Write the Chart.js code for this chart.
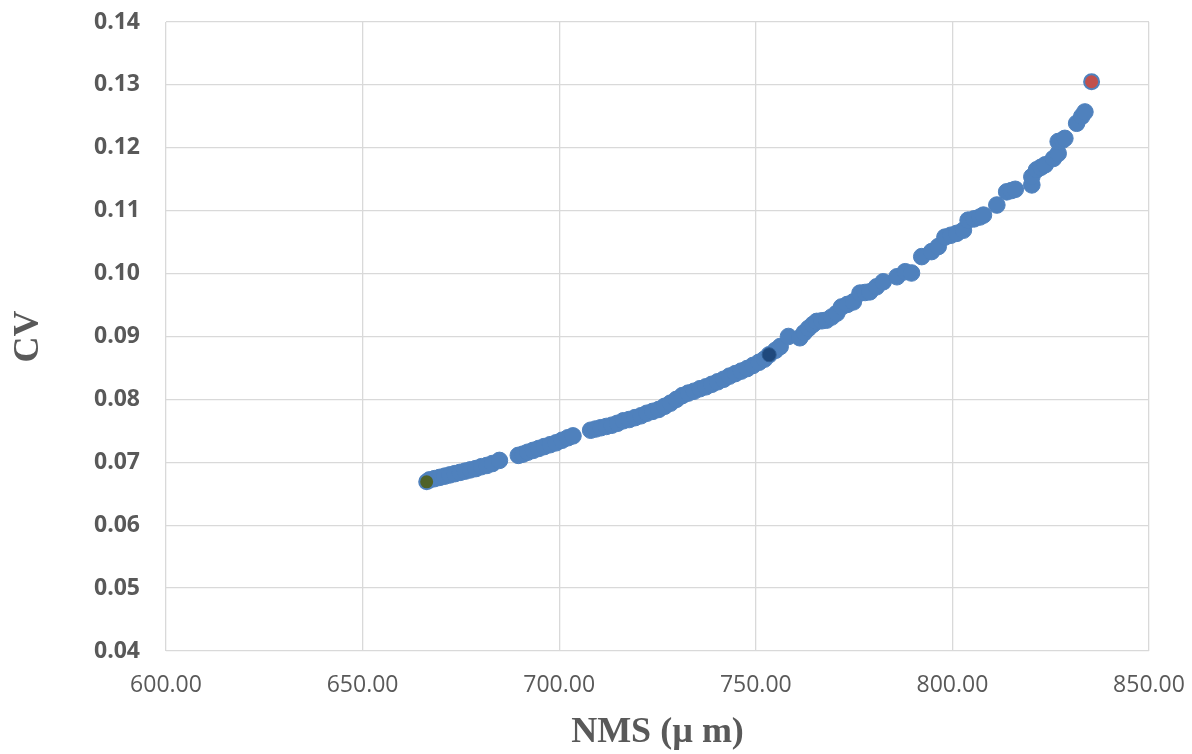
<!DOCTYPE html>
<html>
<head>
<meta charset="utf-8">
<script src="https://cdn.jsdelivr.net/npm/chart.js@4.4.1/dist/chart.umd.min.js"></script>
<style>
    body { margin: 0; background: #ffffff; }
    #wrap { width: 1192px; height: 754px; }
</style>
</head>
<body>
<div id="wrap"><canvas id="cvChart" width="1192" height="754"></canvas></div>
<script>
// NMS values (µm) for the main series
const nmsValues = [
    667.0, 668.3, 669.6, 670.9, 672.2, 673.5, 674.8, 676.1, 677.4, 678.8, 680.2, 681.6, 683.0, 684.8,
    689.6, 690.8, 692.0, 693.4, 694.8, 696.2, 697.7, 699.2, 700.7, 702.2, 703.5,
    708.0, 709.3, 710.6, 712.0, 713.4, 714.8, 716.3, 717.8, 719.3, 720.8, 722.3, 723.8, 725.3, 726.8,
    728.3, 729.8, 731.3, 732.8, 734.3, 735.8, 737.3, 738.8, 740.3, 741.8, 743.3, 744.8, 746.3, 747.8,
    749.3, 750.8, 752.2, 753.4, 755.0, 756.2, 758.3, 761.2, 762.3, 763.4, 764.5, 765.5, 766.8, 768.0,
    769.3, 770.6, 771.8, 773.3, 774.8, 776.5, 777.8, 779.0, 780.7, 782.4, 785.9, 788.0, 789.6,
    792.2, 794.7, 796.4, 798.1, 799.6, 801.1, 802.8, 804.0, 805.5, 807.0, 807.9, 811.3, 813.8, 815.0,
    816.0, 820.2, 820.2, 821.4, 822.5, 823.6, 825.7, 826.9, 826.9, 828.0, 828.6, 831.6, 832.9, 833.7
];
// CV values matching nmsValues
const cvValues = [
    0.0672, 0.0674, 0.0676, 0.0678, 0.0680, 0.0682, 0.0684, 0.0686, 0.0688, 0.0690, 0.0693, 0.0695, 0.0698, 0.0703,
    0.0711, 0.0713, 0.0716, 0.0719, 0.0722, 0.0725, 0.0728, 0.0731, 0.0735, 0.0739, 0.0742,
    0.0751, 0.0753, 0.0755, 0.0757, 0.0759, 0.0762, 0.0766, 0.0768, 0.0771, 0.0774, 0.0778, 0.0781, 0.0784, 0.0789,
    0.0794, 0.0800, 0.0806, 0.0810, 0.0813, 0.0817, 0.0820, 0.0824, 0.0828, 0.0832, 0.0837, 0.0841, 0.0845, 0.0849,
    0.0854, 0.0859, 0.0864, 0.0871, 0.0878, 0.0884, 0.0900, 0.0898, 0.0906, 0.0913, 0.0919, 0.0924, 0.0925, 0.0926,
    0.0931, 0.0937, 0.0947, 0.0951, 0.0955, 0.0969, 0.0970, 0.0971, 0.0979, 0.0987, 0.0995, 0.1003, 0.1001,
    0.1027, 0.1035, 0.1043, 0.1058, 0.1061, 0.1064, 0.1069, 0.1085, 0.1087, 0.1090, 0.1093, 0.1109, 0.1130, 0.1132,
    0.1134, 0.1141, 0.1154, 0.1165, 0.1169, 0.1173, 0.1183, 0.1191, 0.1210, 0.1212, 0.1215, 0.1239, 0.1250, 0.1257
];
// highlighted points: minimum, middle, maximum
const minPoint = [666.3, 0.0669];
const midPoint = [753.4, 0.0871];
const maxPoint = [835.4, 0.1305];

// axis ranges
const xTicks = [600, 650, 700, 750, 800, 850];
const yTicks = [0.04, 0.05, 0.06, 0.07, 0.08, 0.09, 0.10, 0.11, 0.12, 0.13, 0.14];

const mainPoints = nmsValues.map((x, i) => ({ x: x, y: cvValues[i] }));

const ctx = document.getElementById('cvChart').getContext('2d');

const chart = new Chart(ctx, {
    type: 'scatter',
    data: {
        datasets: [
            {
                label: 'CV',
                data: mainPoints,
                backgroundColor: '#4F81BD',
                borderColor: '#4F81BD',
                borderWidth: 1,
                pointRadius: 8.3,
                order: 2
            },
            {
                label: 'min',
                data: [{ x: minPoint[0], y: minPoint[1] }],
                backgroundColor: '#4F6228',
                borderColor: '#4F81BD',
                borderWidth: 2,
                pointRadius: 7.5,
                order: 1
            },
            {
                label: 'mid',
                data: [{ x: midPoint[0], y: midPoint[1] }],
                backgroundColor: '#1F497D',
                borderColor: '#2E5C92',
                borderWidth: 1,
                pointRadius: 7,
                order: 1
            },
            {
                label: 'max',
                data: [{ x: maxPoint[0], y: maxPoint[1] }],
                backgroundColor: '#C0504D',
                borderColor: '#4F81BD',
                borderWidth: 2,
                pointRadius: 7.5,
                order: 1
            }
        ]
    },
    options: {
        responsive: false,
        animation: false,
        layout: {
            autoPadding: false,
            padding: { top: 22, right: 43, left: 0, bottom: 0 }
        },
        scales: {
            x: {
                type: 'linear',
                min: xTicks[0],
                max: xTicks[xTicks.length - 1],
                afterBuildTicks: function(scale) {
                    scale.ticks = xTicks.map(v => ({ value: v }));
                },
                afterFit: function(scale) {
                    scale.height = 103;
                    scale.paddingLeft = 0;
                    scale.paddingRight = 0;
                },
                grid: {
                    color: '#d9d9d9',
                    lineWidth: 1.3,
                    drawTicks: false
                },
                border: { display: false },
                ticks: {
                    padding: 21,
                    color: '#595959',
                    font: { family: 'Open Sans', size: 23 },
                    callback: function(value) {
                        return Number(value).toFixed(2);
                    }
                },
                title: {
                    display: true,
                    text: 'NMS (µ m)',
                    color: '#595959',
                    padding: { top: 0, bottom: 0 },
                    font: { family: 'Liberation Serif', size: 36, weight: 'bold' }
                }
            },
            y: {
                type: 'linear',
                min: yTicks[0],
                max: yTicks[yTicks.length - 1],
                afterBuildTicks: function(scale) {
                    scale.ticks = yTicks.map(v => ({ value: v }));
                },
                afterFit: function(scale) {
                    scale.width = 166;
                    scale.paddingTop = 0;
                    scale.paddingBottom = 0;
                },
                grid: {
                    color: '#d9d9d9',
                    lineWidth: 1.3,
                    drawTicks: false
                },
                border: { display: false },
                ticks: {
                    padding: 26,
                    color: '#595959',
                    font: { family: 'Open Sans', size: 23, weight: 'bold' },
                    callback: function(value) {
                        return Number(value).toFixed(2);
                    }
                },
                title: {
                    display: true,
                    text: 'CV',
                    color: '#595959',
                    padding: { top: 7, bottom: 0 },
                    font: { family: 'Liberation Serif', size: 36, weight: 'bold' }
                }
            }
        },
        plugins: {
            legend: { display: false },
            tooltip: { enabled: false }
        }
    }
});
</script>
</body>
</html>
